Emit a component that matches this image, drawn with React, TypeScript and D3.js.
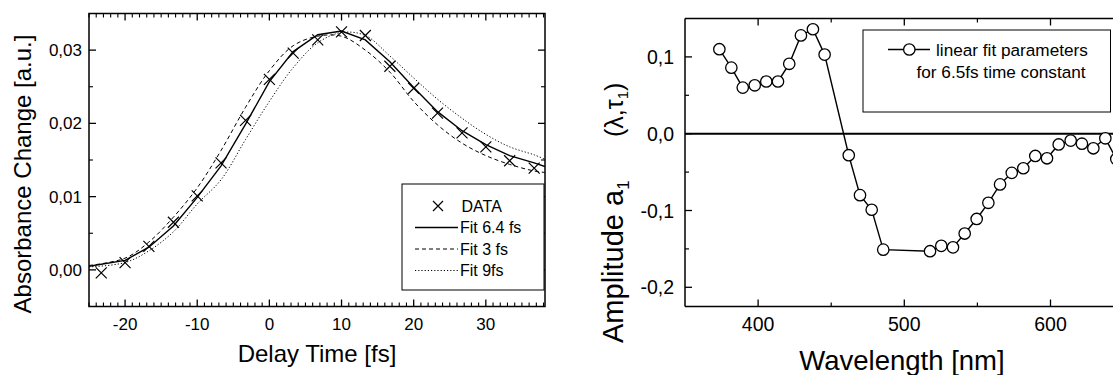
import React from 'react';
import * as d3 from 'd3';

// ---------- Left panel data ----------
const delayTimes = [-23.3, -20, -16.7, -13.3, -10, -6.7, -3.3, 0, 3.3, 6.7, 10, 13.3, 16.7, 20, 23.3, 26.7, 30, 33.3, 36.7];
const dataValues = [-0.0004, 0.001, 0.0032, 0.0065, 0.0101, 0.0146, 0.0204, 0.026, 0.0296, 0.0314, 0.0325, 0.032, 0.0278, 0.0248, 0.0214, 0.0187, 0.0168, 0.0149, 0.0139];
const fitTimes = [-25, -20, -16.7, -13.3, -10, -6.7, -3.3, 0, 3.3, 6.7, 10, 13.3, 16.7, 20, 23.3, 26.7, 30, 33.3, 36.7, 38.2];
const fit64 = [0.0005, 0.0013, 0.0031, 0.006, 0.0099, 0.0142, 0.0199, 0.0257, 0.0298, 0.0321, 0.0326, 0.0314, 0.0284, 0.0249, 0.0216, 0.019, 0.0171, 0.0156, 0.0146, 0.0141];
const fit3 = [0.0006, 0.0016, 0.0038, 0.0072, 0.0112, 0.0163, 0.0222, 0.0272, 0.0306, 0.0319, 0.0319, 0.03, 0.027, 0.023, 0.0198, 0.0173, 0.0156, 0.0144, 0.0135, 0.0133];
const fit9 = [0.0004, 0.001, 0.0026, 0.0052, 0.009, 0.0123, 0.0178, 0.023, 0.0276, 0.031, 0.0324, 0.032, 0.0292, 0.0262, 0.0233, 0.0207, 0.0185, 0.0168, 0.0157, 0.0151];
const leftXTicks = [-20, -10, 0, 10, 20, 30];
const leftYTicks = [0, 0.01, 0.02, 0.03];
const leftLegend = ['DATA', 'Fit 6.4 fs', 'Fit 3 fs', 'Fit 9fs'];

// ---------- Right panel data ----------
const wavelengths = [373.5, 381.7, 389.5, 397.7, 405.6, 413.6, 421.3, 429.3, 437.5, 445.5, 462, 469.7, 477.7, 485.6, 517.6, 525.3, 533.3, 541.3, 549.5, 557.5, 565.5, 573.5, 581.4, 589.6, 597.6, 605.6, 613.8, 621.5, 629.3, 637.5, 645];
const amplitudes = [0.11, 0.086, 0.06, 0.063, 0.068, 0.068, 0.091, 0.128, 0.136, 0.103, -0.028, -0.08, -0.099, -0.151, -0.153, -0.146, -0.148, -0.13, -0.111, -0.09, -0.066, -0.051, -0.045, -0.029, -0.032, -0.014, -0.009, -0.013, -0.019, -0.006, -0.033];
const rightXTicks = [400, 500, 600];
const rightYTicks = [-0.2, -0.1, 0.0, 0.1];

const FONT = '"Liberation Sans", Arial, sans-serif';
const comma = (v: number, d: number) => d3.format(`.${d}f`)(v).replace('.', ',').replace('−', '-');

export default function App() {
  // left panel geometry
  const L = { left: 89, right: 545, top: 13.5, bottom: 306.5 };
  const xL = d3.scaleLinear().domain([-25, 38.2]).range([L.left, L.right]);
  const yL = d3.scaleLinear().domain([-0.005, 0.035]).range([L.bottom, L.top]);
  const lineL = (vals: number[]) =>
    d3.line<number>().x((_, i) => xL(fitTimes[i])).y((v) => yL(v)).curve(d3.curveCatmullRom)(vals) || '';
  const lineLin = (vals: number[]) =>
    d3.line<number>().x((_, i) => xL(fitTimes[i])).y((v) => yL(v))(vals) || '';
  const minorXL = d3.range(-25, 39, 1).filter((v) => v % 10 !== 0);
  const minorYL = [0.005, 0.015, 0.025];

  // right panel geometry
  const R = { left: 685, right: 685 + 300 * 1.462, top: 18.5, bottom: 306.5 };
  const xR = d3.scaleLinear().domain([350, 650]).range([R.left, R.right]);
  const yR = d3.scaleLinear().domain([-0.225, 0.15]).range([R.bottom, R.top]);
  const minorXR = [450, 550, 650];
  const minorYR = [-0.15, -0.05, 0.05];
  const ampLine = d3.line<number>().x((_, i) => xR(wavelengths[i])).y((v) => yR(v))(amplitudes) || '';

  const cross = (cx: number, cy: number, s: number, key: string) => (
    <path key={key} d={`M${cx - s},${cy - s}L${cx + s},${cy + s}M${cx - s},${cy + s}L${cx + s},${cy - s}`} stroke="#000" strokeWidth={1.2} fill="none" />
  );

  const legendRowY = [206, 227.5, 249, 270.5];

  return (
    <svg width={1113} height={375} style={{ position: 'absolute', left: 0, top: 0, background: '#fff' }} fontFamily={FONT}>
      <defs>
        <clipPath id="clipL">
          <rect x={L.left} y={L.top} width={L.right - L.left} height={L.bottom - L.top} />
        </clipPath>
      </defs>
      <rect x={0} y={0} width={1113} height={375} fill="#fff" />

      {/* ===== LEFT PANEL ===== */}
      <g clipPath="url(#clipL)" fill="none" stroke="#000">
        <path d={lineL(fit3)} strokeWidth={1} strokeDasharray="4,3" />
        <path d={lineL(fit9)} strokeWidth={1} strokeDasharray="1.2,2" />
        <path d={lineLin(fit64)} strokeWidth={1.4} />
      </g>
      {delayTimes.map((t, i) => cross(xL(t), yL(dataValues[i]), 5.5, `c${i}`))}

      {/* frame */}
      <rect x={L.left} y={L.top} width={L.right - L.left} height={L.bottom - L.top} fill="none" stroke="#000" strokeWidth={1.5} />
      {leftXTicks.map((t) => (
        <g key={`lx${t}`}>
          <line x1={xL(t)} x2={xL(t)} y1={L.bottom} y2={L.bottom - 7} stroke="#000" strokeWidth={1.3} />
          <line x1={xL(t)} x2={xL(t)} y1={L.top} y2={L.top + 7} stroke="#000" strokeWidth={1.3} />
          <text x={xL(t)} y={329.5} fontSize={17} textAnchor="middle">{t}</text>
        </g>
      ))}
      {minorXL.map((t) => (
        <g key={`lmx${t}`}>
          <line x1={xL(t)} x2={xL(t)} y1={L.bottom} y2={L.bottom - 4} stroke="#000" strokeWidth={1.1} />
          <line x1={xL(t)} x2={xL(t)} y1={L.top} y2={L.top + 4} stroke="#000" strokeWidth={1.1} />
        </g>
      ))}
      {leftYTicks.map((v) => (
        <g key={`ly${v}`}>
          <line x1={L.left} x2={L.left + 7} y1={yL(v)} y2={yL(v)} stroke="#000" strokeWidth={1.3} />
          <line x1={L.right} x2={L.right - 7} y1={yL(v)} y2={yL(v)} stroke="#000" strokeWidth={1.3} />
          <text x={82} y={yL(v)} dy="0.36em" fontSize={17} textAnchor="end">{comma(v, 2)}</text>
        </g>
      ))}
      {minorYL.map((v) => (
        <g key={`lmy${v}`}>
          <line x1={L.left} x2={L.left + 4} y1={yL(v)} y2={yL(v)} stroke="#000" strokeWidth={1.1} />
          <line x1={L.right} x2={L.right - 4} y1={yL(v)} y2={yL(v)} stroke="#000" strokeWidth={1.1} />
        </g>
      ))}
      <text x={317} y={362} fontSize={24} textAnchor="middle">Delay Time [fs]</text>
      <text transform={`translate(31,174) rotate(-90)`} fontSize={24} textAnchor="middle">Absorbance Change [a.u.]</text>

      {/* legend */}
      <rect x={402} y={184} width={142} height={106} fill="#fff" stroke="#000" strokeWidth={1} />
      {cross(438, legendRowY[0], 5, 'lgx')}
      <line x1={415} x2={458} y1={legendRowY[1]} y2={legendRowY[1]} stroke="#000" strokeWidth={1.4} />
      <line x1={415} x2={458} y1={legendRowY[2]} y2={legendRowY[2]} stroke="#000" strokeWidth={1} strokeDasharray="4,3" />
      <line x1={415} x2={458} y1={legendRowY[3]} y2={legendRowY[3]} stroke="#000" strokeWidth={1} strokeDasharray="1.2,2" />
      {leftLegend.map((s, i) => (
        <text key={s} x={i === 0 ? 461.5 : 460} y={legendRowY[i]} dy="0.36em" fontSize={16}>{s}</text>
      ))}

      {/* ===== RIGHT PANEL ===== */}
      <line x1={R.left} x2={R.left} y1={R.top} y2={R.bottom} stroke="#000" strokeWidth={1.5} />
      <line x1={R.left} x2={1113} y1={R.top} y2={R.top} stroke="#000" strokeWidth={1.5} />
      <line x1={R.left} x2={1113} y1={R.bottom} y2={R.bottom} stroke="#000" strokeWidth={1.5} />
      <line x1={R.left} x2={1113} y1={yR(0)} y2={yR(0)} stroke="#000" strokeWidth={2} />
      {rightXTicks.map((t) => (
        <g key={`rx${t}`}>
          <line x1={xR(t)} x2={xR(t)} y1={R.bottom} y2={R.bottom - 7} stroke="#000" strokeWidth={1.3} />
          <line x1={xR(t)} x2={xR(t)} y1={R.top} y2={R.top + 7} stroke="#000" strokeWidth={1.3} />
          <text x={xR(t)} y={330.5} fontSize={19.5} textAnchor="middle">{t}</text>
        </g>
      ))}
      {minorXR.map((t) => (
        <g key={`rmx${t}`}>
          <line x1={xR(t)} x2={xR(t)} y1={R.bottom} y2={R.bottom - 4} stroke="#000" strokeWidth={1.2} />
          <line x1={xR(t)} x2={xR(t)} y1={R.top} y2={R.top + 4} stroke="#000" strokeWidth={1.2} />
        </g>
      ))}
      {rightYTicks.map((v) => (
        <g key={`ry${v}`}>
          <line x1={R.left} x2={R.left + 7} y1={yR(v)} y2={yR(v)} stroke="#000" strokeWidth={1.3} />
          <text x={674} y={yR(v)} dy="0.36em" fontSize={19.5} textAnchor="end">{comma(v, 1)}</text>
        </g>
      ))}
      {minorYR.map((v) => (
        <line key={`rmy${v}`} x1={R.left} x2={R.left + 4} y1={yR(v)} y2={yR(v)} stroke="#000" strokeWidth={1.2} />
      ))}
      <path d={ampLine} fill="none" stroke="#000" strokeWidth={1.4} />
      {wavelengths.map((w, i) => (
        <circle key={`p${i}`} cx={xR(w)} cy={yR(amplitudes[i])} r={5.7} fill="#fff" stroke="#000" strokeWidth={1.3} />
      ))}

      <text x={902} y={370} fontSize={27.5} textAnchor="middle">Wavelength [nm]</text>
      <text transform={`translate(623,343) rotate(-90)`}>
        <tspan x={0} fontSize={29}>Amplitude a</tspan>
        <tspan fontSize={17} dy={6}>1</tspan>
        <tspan x={206} fontSize={25} dy={-6}>(λ,τ</tspan>
        <tspan fontSize={15} dy={5}>1</tspan>
        <tspan fontSize={25} dy={-5}>)</tspan>
      </text>

      {/* right legend */}
      <rect x={863} y={30} width={247.5} height={82} fill="#fff" stroke="#000" strokeWidth={1} />
      <line x1={888} x2={930} y1={49.5} y2={49.5} stroke="#000" strokeWidth={1.4} />
      <circle cx={909.3} cy={49.5} r={5.7} fill="#fff" stroke="#000" strokeWidth={1.3} />
      <text x={936} y={49.5} dy="0.36em" fontSize={17.2}>linear fit parameters</text>
      <text x={916.5} y={72} dy="0.36em" fontSize={17.2}>for 6.5fs time constant</text>
    </svg>
  );
}
